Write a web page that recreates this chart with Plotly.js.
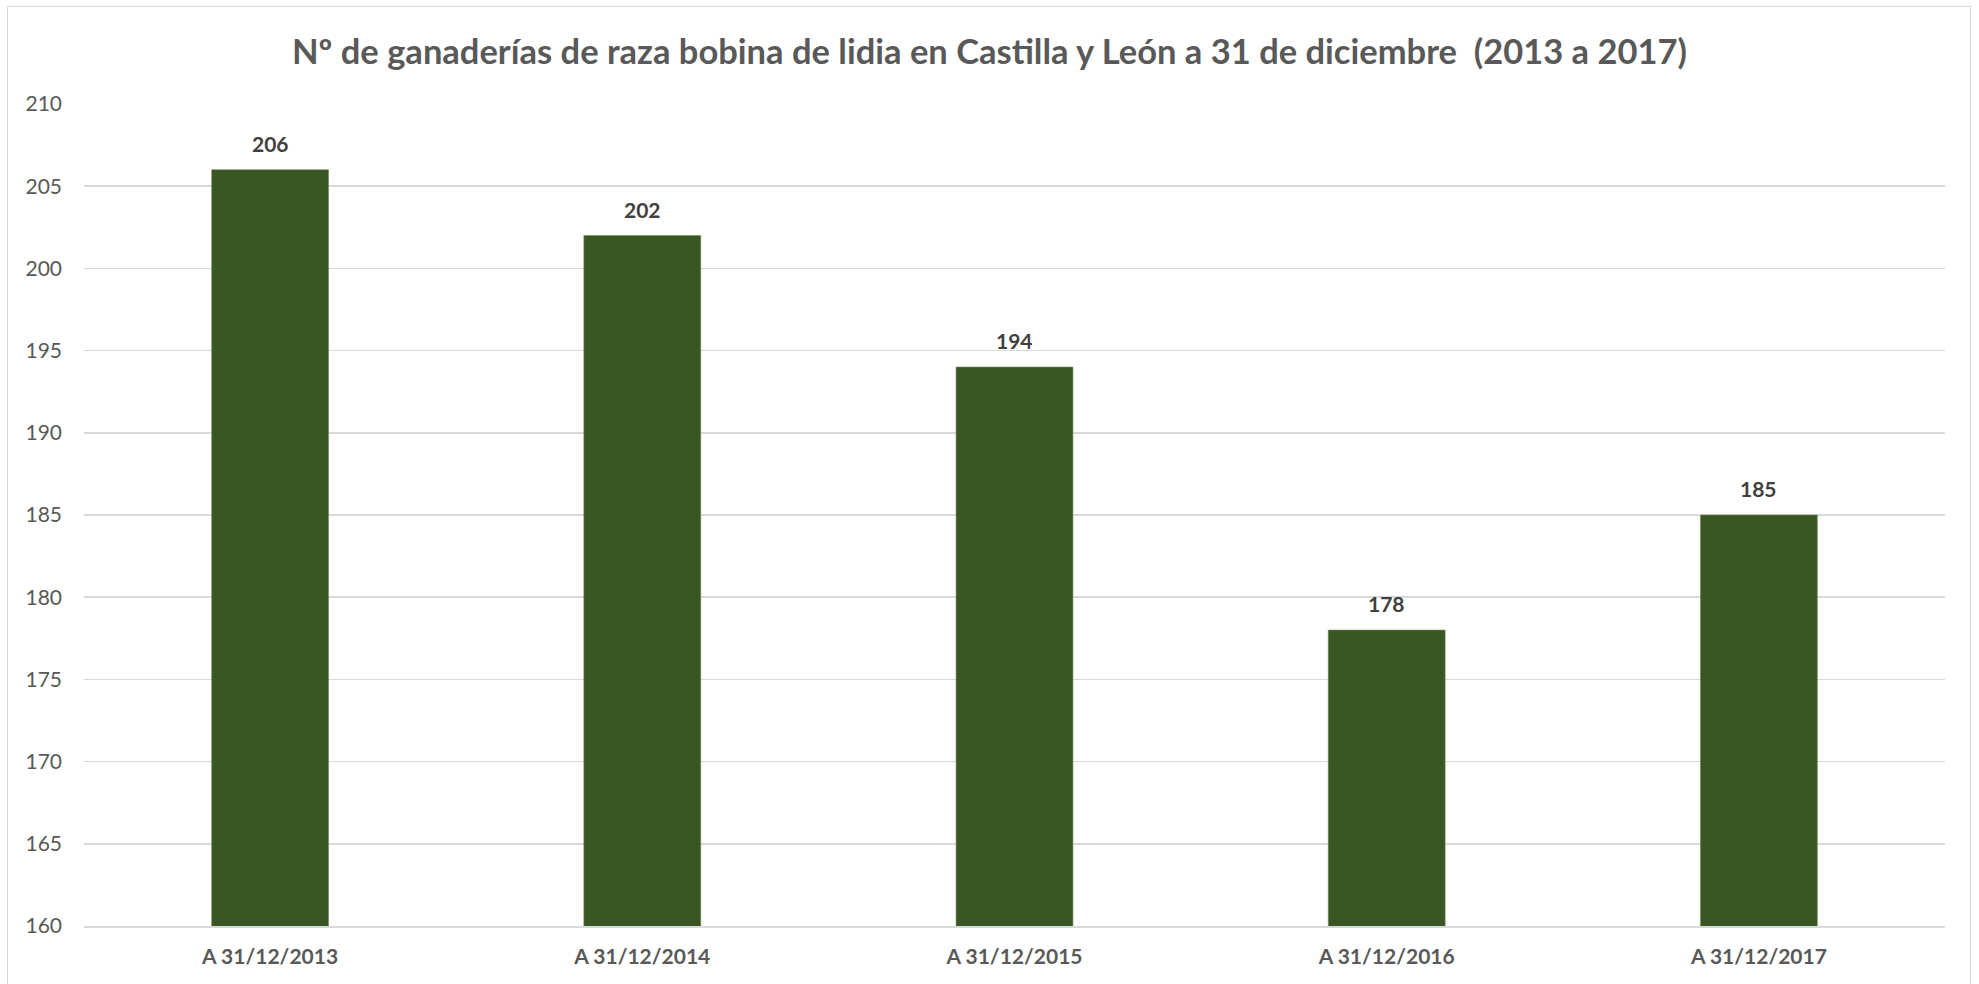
<!DOCTYPE html>
<html>
<head>
<meta charset="utf-8">
<script src="https://cdn.plot.ly/plotly-3.0.1.min.js"></script>
<style>
  html, body { margin: 0; padding: 0; background: #ffffff; }
  #chart { width: 1979px; height: 984px; }
  #frame { position: absolute; left: 7px; top: 6px; width: 1962px; height: 990px; border: 1.5px solid #d9d9d9; pointer-events: none; }
</style>
</head>
<body>
<div id="chart"></div>
<div id="frame"></div>
<script>
const categories = ["A 31/12/2013", "A 31/12/2014", "A 31/12/2015", "A 31/12/2016", "A 31/12/2017"];
const values = [206, 202, 194, 178, 185];
const yTicks = [160, 165, 170, 175, 180, 185, 190, 195, 200, 205, 210];
const titleText = "Nº de ganaderías de raza bobina de lidia en Castilla y León a 31 de diciembre  (2013 a 2017)";

const FONT = "Lato, 'Open Sans', sans-serif";

const trace = {
  type: "bar",
  x: categories,
  y: values,
  marker: { color: "#3a5623", line: { color: "#6e8a58", width: 0.6 } },
  hoverinfo: "x+y"
};

const annotations = categories.map((c, i) => ({
  x: c,
  y: values[i],
  xref: "x",
  yref: "y",
  text: String(values[i]),
  showarrow: false,
  yanchor: "bottom",
  yshift: 12,
  font: { family: FONT, size: 21, color: "#404040", weight: 700 }
}));

const layout = {
  width: 1979,
  height: 984,
  paper_bgcolor: "#ffffff",
  plot_bgcolor: "#ffffff",
  margin: { l: 84, r: 34, t: 104, b: 58 },
  bargap: 0.686,
  showlegend: false,
  title: {
    text: "<b>" + titleText + "</b>",
    x: 0.5,
    xanchor: "center",
    y: 0.947,
    yanchor: "middle",
    font: { family: FONT, size: 34.5, color: "#595959" }
  },
  xaxis: {
    type: "category",
    showgrid: false,
    showline: true,
    linecolor: "#d9d9d9",
    linewidth: 1.5,
    ticks: "",
    ticklabelstandoff: 11,
    tickfont: { family: FONT, size: 21, color: "#595959", weight: 700 },
    fixedrange: true
  },
  yaxis: {
    range: [160, 210],
    tickmode: "array",
    tickvals: yTicks,
    ticktext: yTicks.map(String),
    showgrid: true,
    gridcolor: "#d9d9d9",
    gridwidth: 1.5,
    zeroline: false,
    showline: false,
    ticks: "",
    ticklabelstandoff: 21,
    tickfont: { family: FONT, size: 21, color: "#595959" },
    fixedrange: true
  },
  annotations: annotations
};

Plotly.newPlot("chart", [trace], layout, { displayModeBar: false, staticPlot: true });
</script>
</body>
</html>
